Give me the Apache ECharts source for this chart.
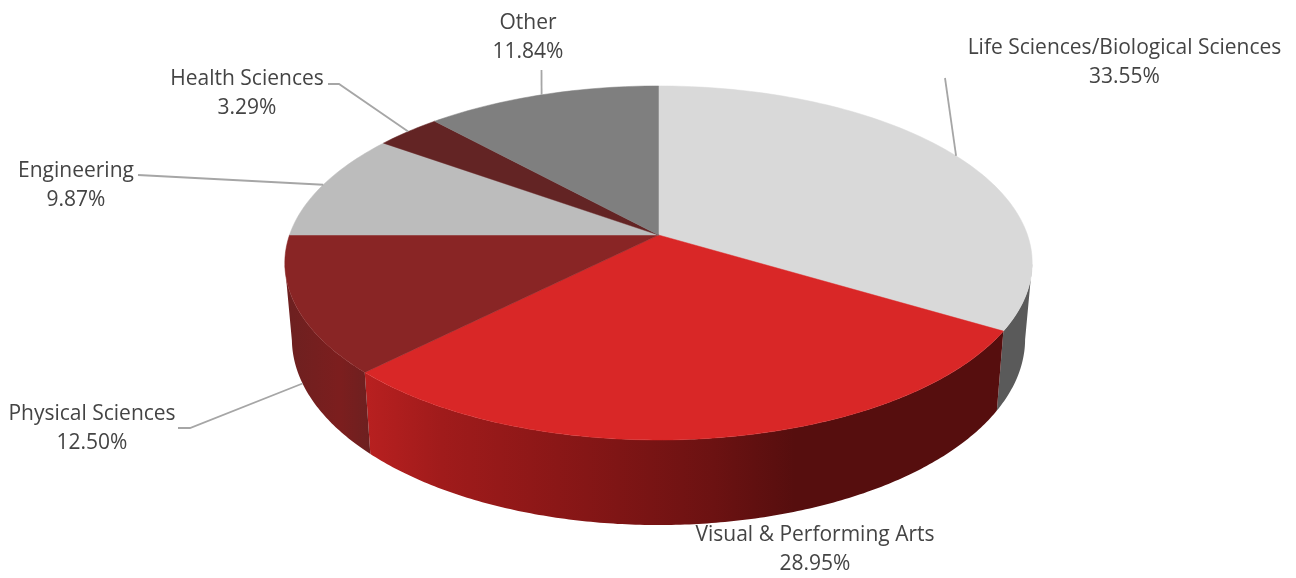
<!DOCTYPE html>
<html>
<head>
<meta charset="utf-8">
<style>
  html, body { margin: 0; padding: 0; background: #fff; }
  #chart { width: 1296px; height: 578px; }
</style>
<script src="https://cdn.jsdelivr.net/npm/echarts@6/dist/echarts.min.js"></script>
</head>
<body>
<div id="chart"></div>
<script>
// data, clockwise from 12 o'clock
var categories = ['Life Sciences/Biological Sciences', 'Visual & Performing Arts', 'Physical Sciences', 'Engineering', 'Health Sciences', 'Other']
var shares = [33.55, 28.95, 12.50, 9.87, 3.29, 11.84]

// colours
var topColors = ['#d9d9d9', '#d92727', '#892525', '#bcbcbc', '#632424', '#7f7f7f']
var wallColors = [
  '#5a5a5a',
  new echarts.graphic.LinearGradient(366, 0, 997, 0, [
    { offset: 0, color: '#b82020' },
    { offset: 0.12, color: '#a01b1b' },
    { offset: 0.35, color: '#851616' },
    { offset: 0.55, color: '#6c1212' },
    { offset: 0.68, color: '#560e0e' },
    { offset: 1, color: '#560e0e' }
  ], true),
  new echarts.graphic.LinearGradient(292, 0, 371, 0, [
    { offset: 0, color: '#6e2020' },
    { offset: 0.6, color: '#7c1e1e' },
    { offset: 1, color: '#6c2020' }
  ], true),
  '#8e8e8e', '#4a1a1a', '#606060'
]

// label layout: text centre, and the leader line from the label to the slice rim
var labelCenter = [[1124.5, 62.5], [815, 550], [92, 429], [76, 186], [247, 94], [528, 37.5]]
var leaderStart = [[[945, 78]], null, [[178, 428], [190, 428]], [[138, 175]], [[328, 84], [339, 84]], [[541.5, 70]]]

// perspective model of the pie disc (fitted to the reference)
var apexX = 658.5
var tilt = 0.158
var topPlane = { a: 369, b: 172.6, cy: 235 }
var lowPlane = { a: 362, b: 181.4, cy: 309.6 }

var starts = []
var total = 0
shares.forEach(function (v) {
  starts.push(total)
  total += v
})

function depth(share) {
  return -Math.cos(share / total * Math.PI * 2)
}

function project(plane, share) {
  var ang = share / total * Math.PI * 2
  var u = Math.sin(ang)
  var v = -Math.cos(ang)
  var w = 1 - tilt * v
  return [apexX + plane.a * u / w, plane.cy + plane.b * v / w]
}

function arc(plane, from, to) {
  var pts = []
  var steps = Math.max(8, Math.ceil((to - from) * 3))
  for (var i = 0; i <= steps; i++) {
    pts.push(project(plane, from + (to - from) * i / steps))
  }
  return pts
}

// side wall: one polygon over the part of the rim that faces the viewer
function renderWall(params, api) {
  var i = params.dataIndex
  var from = starts[i]
  var to = from + api.value(0)
  var upper = []
  var lower = []
  var steps = Math.max(8, Math.ceil((to - from) * 6))
  for (var k = 0; k <= steps; k++) {
    var s = from + (to - from) * k / steps
    if (depth(s) < tilt) continue
    upper.push(project(topPlane, s))
    lower.push(project(lowPlane, s))
  }
  if (!upper.length) return { type: 'group', children: [] }
  return {
    type: 'polygon',
    shape: { points: upper.concat(lower.reverse()) },
    style: { fill: wallColors[i] }
  }
}

function renderTop(params, api) {
  var i = params.dataIndex
  var from = starts[i]
  var to = from + api.value(0)
  return {
    type: 'polygon',
    shape: { points: [[apexX, topPlane.cy]].concat(arc(topPlane, from, to)) },
    style: { fill: topColors[i], stroke: topColors[i], lineWidth: 0.5 }
  }
}

function renderLabel(params, api) {
  var i = params.dataIndex
  var children = []
  if (leaderStart[i]) {
    // the physical sciences leader lands on the lower rim, the others on the top rim
    var plane = i === 2 ? lowPlane : topPlane
    var anchor = project(plane, starts[i] + api.value(0) / 2)
    children.push({
      type: 'polyline',
      shape: { points: leaderStart[i].concat([anchor]) },
      style: { fill: 'none', stroke: '#a6a6a6', lineWidth: 1.8 }
    })
  }
  children.push({
    type: 'text',
    style: {
      text: categories[i] + '\n' + api.value(0).toFixed(2) + '%',
      x: labelCenter[i][0],
      y: labelCenter[i][1],
      align: 'center',
      verticalAlign: 'middle',
      fill: '#444444',
      fontFamily: '"Open Sans"',
      fontSize: 21,
      lineHeight: 29
    }
  })
  return { type: 'group', children: children }
}

var seriesData = shares.map(function (v) { return [v] })

var myChart = echarts.init(document.getElementById('chart'))
myChart.setOption({
  animation: false,
  backgroundColor: '#fff',
  tooltip: { show: false },
  series: [
    { type: 'custom', coordinateSystem: 'none', z: 1, silent: true, renderItem: renderWall, data: seriesData },
    { type: 'custom', coordinateSystem: 'none', z: 2, silent: true, renderItem: renderTop, data: seriesData },
    { type: 'custom', coordinateSystem: 'none', z: 3, silent: true, renderItem: renderLabel, data: seriesData }
  ]
})
</script>
</body>
</html>
